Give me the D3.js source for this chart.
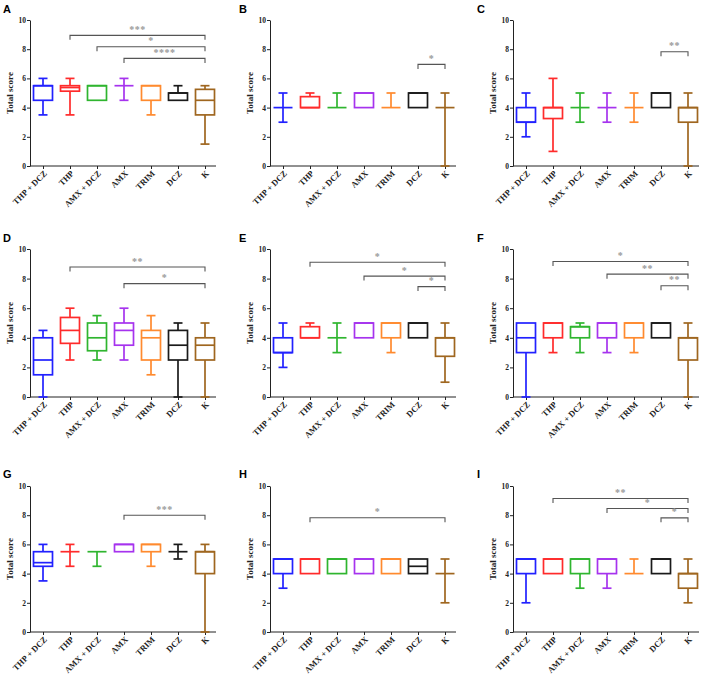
<!DOCTYPE html>
<html>
<head>
<meta charset="utf-8">
<script src="https://cdn.jsdelivr.net/npm/d3@7"></script>
<style>
  body { margin: 0; background: #fff; }
  svg text { font-family: "Liberation Serif", "Times New Roman", serif; font-weight: bold; }
  .letter { font-family: "Liberation Sans", Arial, sans-serif; }
</style>
</head>
<body>
<div id="chart"></div>
<script type="text/javascript">
// groups, same order in every panel
var categories = ["THP + DCZ", "THP", "AMX + DCZ", "AMX", "TRIM", "DCZ", "K"];
var colors = ["#2121ff", "#ff2b2b", "#2fb52f", "#a633ee", "#ff8a2e", "#1a1a1a", "#9f661f"];
var letters = ["A", "B", "C", "D", "E", "F", "G", "H", "I"];
var yTicks = [0, 2, 4, 6, 8, 10];

// box stats per group: [min, q1, median, q3, max]
var boxesA = [[3.5, 4.5, 5.5, 5.5, 6], [3.5, 5.125, 5.375, 5.5, 6], [4.5, 4.5, 5.5, 5.5, 5.5], [4.5, 5.5, 5.5, 5.5, 6], [3.5, 4.5, 5.5, 5.5, 5.5], [4.5, 4.5, 5, 5, 5.5], [1.5, 3.5, 4.5, 5.25, 5.5]];
var boxesB = [[3, 4, 4, 4, 5], [4, 4, 4, 4.75, 5], [4, 4, 4, 4, 5], [4, 4, 5, 5, 5], [4, 4, 4, 4, 5], [4, 4, 5, 5, 5], [0, 4, 4, 4, 5]];
var boxesC = [[2, 3, 3, 4, 5], [1, 3.25, 4, 4, 6], [3, 4, 4, 4, 5], [3, 4, 4, 4, 5], [3, 4, 4, 4, 5], [4, 4, 5, 5, 5], [0, 3, 4, 4, 5]];
var boxesD = [[0, 1.5, 2.5, 4, 4.5], [2.5, 3.625, 4.5, 5.375, 6], [2.5, 3.125, 4, 5, 5.5], [2.5, 3.5, 4.5, 5, 6], [1.5, 2.5, 4, 4.5, 5.5], [0, 2.5, 3.5, 4.5, 5], [0, 2.5, 3.5, 4, 5]];
var boxesE = [[2, 3, 3, 4, 5], [4, 4, 4, 4.75, 5], [3, 4, 4, 4, 5], [4, 4, 5, 5, 5], [3, 4, 5, 5, 5], [4, 4, 5, 5, 5], [1, 2.75, 4, 4, 5]];
var boxesF = [[0, 3, 4, 5, 5], [3, 4, 5, 5, 5], [3, 4, 4.75, 4.75, 5], [3, 4, 5, 5, 5], [3, 4, 5, 5, 5], [4, 4, 5, 5, 5], [0, 2.5, 4, 4, 5]];
var boxesG = [[3.5, 4.5, 4.75, 5.5, 6], [4.5, 5.5, 5.5, 5.5, 6], [4.5, 5.5, 5.5, 5.5, 5.5], [5.5, 5.5, 6, 6, 6], [4.5, 5.5, 6, 6, 6], [5, 5.5, 5.5, 5.5, 6], [0, 4, 5.5, 5.5, 6]];
var boxesH = [[3, 4, 5, 5, 5], [4, 4, 5, 5, 5], [4, 4, 5, 5, 5], [4, 4, 5, 5, 5], [4, 4, 5, 5, 5], [4, 4, 4.5, 5, 5], [2, 4, 4, 4, 5]];
var boxesI = [[2, 4, 5, 5, 5], [4, 4, 5, 5, 5], [3, 4, 5, 5, 5], [3, 4, 5, 5, 5], [4, 4, 4, 4, 5], [4, 4, 5, 5, 5], [2, 3, 4, 4, 5]];

// significance brackets: [from group, to group, height, stars]
var sigA = [[1, 6, 8.95, "***"], [2, 6, 8.17, "*"], [3, 6, 7.37, "****"]];
var sigB = [[5, 6, 6.96, "*"]];
var sigC = [[5, 6, 7.83, "**"]];
var sigD = [[1, 6, 8.78, "**"], [3, 6, 7.66, "*"]];
var sigE = [[1, 6, 9.1, "*"], [3, 6, 8.17, "*"], [5, 6, 7.46, "*"]];
var sigF = [[1, 6, 9.16, "*"], [3, 6, 8.3, "**"], [5, 6, 7.52, "**"]];
var sigG = [[3, 6, 8.0, "***"]];
var sigH = [[1, 6, 7.83, "*"]];
var sigI = [[1, 6, 9.14, "**"], [3, 6, 8.46, "*"], [5, 6, 7.82, "*"]];

var boxes = [boxesA, boxesB, boxesC, boxesD, boxesE, boxesF, boxesG, boxesH, boxesI];
var sigs = [sigA, sigB, sigC, sigD, sigE, sigF, sigG, sigH, sigI];

// layout
var axisX = [30, 270, 513];     // y-axis position per column
var topY = [20, 249, 486];      // value 10 per row
var botY = [166, 397, 632];     // value 0 per row
var boxW = 19, capW = 9;

var svg = d3.select("#chart").append("svg")
    .attr("width", 708)
    .attr("height", 684);

boxes.forEach(function (data, p) {
  var col = p % 3, row = Math.floor(p / 3);
  var ax = axisX[col];
  var g = svg.append("g");

  var x = d3.scalePoint().domain(categories).range([ax + 13, ax + 175]);
  var y = d3.scaleLinear().domain([0, 10]).range([botY[row], topY[row]]);

  // panel letter
  g.append("text")
    .attr("class", "letter")
    .attr("x", col * 236 + 3 + (col == 2 ? 2 : 0))
    .attr("y", row == 0 ? 13 : (row == 1 ? 242 : 478))
    .style("font-size", "11px")
    .text(letters[p]);

  // y axis
  var yAxis = g.append("g")
    .attr("transform", "translate(" + ax + ",0)")
    .call(d3.axisLeft(y).tickValues(yTicks).tickSize(3).tickSizeOuter(0));
  yAxis.selectAll("text").style("font-size", "7.5px").attr("fill", "#222").attr("x", -4);
  yAxis.selectAll("path, line").attr("stroke", "#222");

  g.append("text")
    .attr("transform", "translate(" + (ax - 17) + "," + ((topY[row] + botY[row]) / 2) + ") rotate(-90)")
    .attr("text-anchor", "middle")
    .style("font-size", "9px")
    .attr("fill", "#222")
    .text("Total score");

  // x axis
  var xAxis = g.append("g")
    .attr("transform", "translate(0," + botY[row] + ")")
    .call(d3.axisBottom(x).tickSize(3).tickSizeOuter(0));
  xAxis.select(".domain").remove();
  xAxis.selectAll("line").attr("stroke", "#222");
  xAxis.selectAll("text")
    .style("font-size", "8.5px")
    .attr("fill", "#222")
    .attr("text-anchor", "end")
    .attr("dy", null)
    .attr("transform", "translate(4,8) rotate(-45)")
    .attr("x", 0).attr("y", 0);
  g.append("line")
    .attr("x1", ax).attr("x2", ax + 186)
    .attr("y1", botY[row]).attr("y2", botY[row])
    .attr("stroke", "#222");

  // boxes
  var b = g.selectAll(".box").data(data).enter().append("g")
    .attr("class", "box")
    .attr("stroke", function (d, i) { return colors[i]; })
    .attr("stroke-width", 1.7)
    .attr("fill", "none");
  var cx = function (d, i) { return x(categories[i]); };

  b.append("line") // lower whisker
    .attr("x1", cx).attr("x2", cx)
    .attr("y1", function (d) { return y(d[0]); }).attr("y2", function (d) { return y(d[1]); });
  b.append("line") // upper whisker
    .attr("x1", cx).attr("x2", cx)
    .attr("y1", function (d) { return y(d[3]); }).attr("y2", function (d) { return y(d[4]); });
  b.filter(function (d) { return d[0] < d[1]; }).append("line")
    .attr("x1", function (d) { return x(categories[data.indexOf(d)]) - capW / 2; })
    .attr("x2", function (d) { return x(categories[data.indexOf(d)]) + capW / 2; })
    .attr("y1", function (d) { return y(d[0]); }).attr("y2", function (d) { return y(d[0]); });
  b.filter(function (d) { return d[4] > d[3]; }).append("line")
    .attr("x1", function (d) { return x(categories[data.indexOf(d)]) - capW / 2; })
    .attr("x2", function (d) { return x(categories[data.indexOf(d)]) + capW / 2; })
    .attr("y1", function (d) { return y(d[4]); }).attr("y2", function (d) { return y(d[4]); });
  b.append("rect")
    .attr("x", function (d, i) { return cx(d, i) - boxW / 2; })
    .attr("width", boxW)
    .attr("y", function (d) { return y(d[3]); })
    .attr("height", function (d) { return y(d[1]) - y(d[3]); });
  b.append("line") // median
    .attr("x1", function (d, i) { return cx(d, i) - boxW / 2; })
    .attr("x2", function (d, i) { return cx(d, i) + boxW / 2; })
    .attr("y1", function (d) { return y(d[2]); }).attr("y2", function (d) { return y(d[2]); });

  // significance brackets
  var s = g.selectAll(".sig").data(sigs[p]).enter().append("g").attr("class", "sig");
  s.append("path")
    .attr("d", function (d) {
      var x1 = x(categories[d[0]]), x2 = x(categories[d[1]]), yy = y(d[2]);
      return "M" + x1 + "," + (yy + 4.5) + "V" + yy + "H" + x2 + "V" + (yy + 4.5);
    })
    .attr("fill", "none")
    .attr("stroke", "#555")
    .attr("stroke-width", 1.1);
  s.append("text")
    .attr("x", function (d) { return (x(categories[d[0]]) + x(categories[d[1]])) / 2; })
    .attr("y", function (d) { return y(d[2]) - 2.5; })
    .attr("text-anchor", "middle")
    .attr("fill", "#999")
    .style("font-size", "10px")
    .style("letter-spacing", "0.5px")
    .text(function (d) { return d[3]; });
});
</script>
</body>
</html>
